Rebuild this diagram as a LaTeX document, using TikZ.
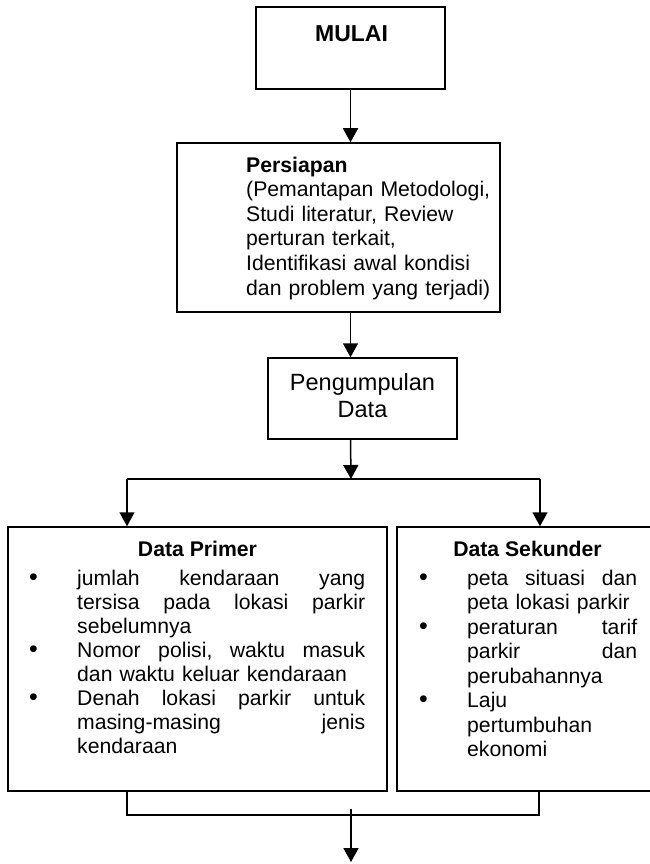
\documentclass[tikz,border=0pt]{standalone}
\usepackage{fontspec}
\setmainfont{Liberation Sans}
\usetikzlibrary{arrows.meta}

\newlength{\itemw}
\newcommand{\butir}{\makebox[48pt][l]{\fontsize{25}{24}\selectfont\textbullet}}
\newcommand{\bj}[1]{\butir\makebox[\itemw][s]{#1}\par}
\newcommand{\bp}[1]{\butir#1\par}
\newcommand{\cj}[1]{\hspace*{48pt}\makebox[\itemw][s]{#1}\par}
\newcommand{\cp}[1]{\hspace*{48pt}#1\par}

\begin{document}
\begin{tikzpicture}[x=1pt, y=-1pt,
    box/.style={draw, line width=1.5pt, inner sep=0pt},
    conn/.style={line width=1.5pt},
    arr/.style={line width=1.5pt, -{Triangle[length=14pt, width=15pt]}},
    bodytxt/.style={inner sep=0pt, font=\fontsize{21.2}{24}\selectfont},
    titletxt/.style={inner sep=0pt, font=\fontsize{21.2}{24}\selectfont\bfseries}
]
\useasboundingbox (0,0) rectangle (649,864);

\node[box, minimum width=189pt, minimum height=82pt] (mulai) at (350.5,48) {};
\node[titletxt, font=\fontsize{23}{27}\selectfont\bfseries, anchor=base] (mulaitxt) at (351.5,42) {MULAI};

\node[box, minimum width=323pt, minimum height=169pt] (persiapan) at (338.5,227.5) {};
\node[bodytxt, font=\fontsize{21.2}{24.6}\selectfont, text width=250pt, align=left, anchor=base west] (persiapantxt) at (246,172)
  {\textbf{Persiapan}\\(Pemantapan Metodologi,\\Studi literatur, Review\\perturan terkait,\\Identifikasi awal kondisi\\dan problem yang terjadi)};

\node[box, minimum width=189pt, minimum height=81pt] (kumpul) at (362.5,398.5) {};
\node[bodytxt, font=\fontsize{23.5}{27}\selectfont, text width=180pt, align=center, anchor=base] (kumpultxt) at (362.5,390) {Pengumpulan\\Data};

\node[box, minimum width=379pt, minimum height=264pt] (primer) at (197.5,659) {};
\node[box, minimum width=261pt, minimum height=264pt] (sekunder) at (527.5,659) {};
\node[titletxt, anchor=base] (primerjudul) at (197.5,556) {Data Primer};
\node[titletxt, anchor=base] (sekunderjudul) at (527.5,556) {Data Sekunder};

\node[bodytxt, text width=336pt, anchor=base west] (primerisi) at (29,585) {\setlength{\itemw}{288pt}%
\bj{jumlah\hfill kendaraan\hfill yang}
\cj{tersisa\hfill pada\hfill lokasi\hfill parkir}
\cp{sebelumnya}
\bj{Nomor\hfill polisi,\hfill waktu\hfill masuk}
\cp{dan waktu keluar kendaraan}
\bj{Denah\hfill lokasi\hfill parkir\hfill untuk}
\cj{masing-masing\hfill jenis}
\cp{kendaraan}};

\node[bodytxt, font=\fontsize{21.2}{24.5}\selectfont, text width=220pt, anchor=base west] (sekunderisi) at (419,585) {\setlength{\itemw}{170pt}%
\bj{peta\hfill situasi\hfill dan}
\cp{peta lokasi parkir}
\bj{peraturan\hfill tarif}
\cj{parkir\hfill dan}
\cp{perubahannya}
\bp{Laju}
\cp{pertumbuhan}
\cp{ekonomi}};

\coordinate (pecah) at (351,479);
\coordinate (pecahkiri) at (127,479);
\coordinate (pecahkanan) at (540,479);
\coordinate (gabungkiri) at (127,815);
\coordinate (gabungkanan) at (539,815);
\coordinate (gabung) at (351,815);
\coordinate (akhir) at (351,862);

\draw[arr] (mulai.south) -- (mulai.south |- persiapan.north);
\draw[arr] (mulai.south |- persiapan.south) -- (mulai.south |- kumpul.north);
\draw[arr] (mulai.south |- kumpul.south) -- (pecah);
\draw[conn] (pecahkiri) -- (pecahkanan);
\draw[arr] (pecahkiri) -- (pecahkiri |- primer.north);
\draw[arr] (pecahkanan) -- (pecahkanan |- sekunder.north);
\draw[conn] (gabungkiri |- primer.south) -- (gabungkiri) -- (gabungkanan) -- (gabungkanan |- sekunder.south);
\draw[arr] ([yshift=6pt]gabung) -- (akhir);
\end{tikzpicture}
\end{document}
